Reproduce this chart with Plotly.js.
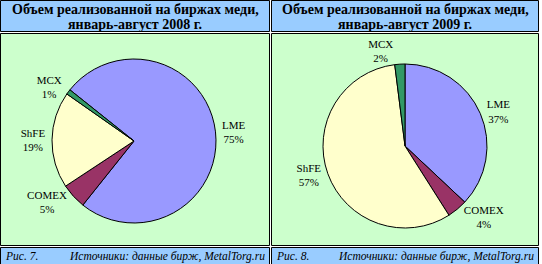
<!DOCTYPE html>
<html>
<head>
<meta charset="utf-8">
<script src="https://cdn.plot.ly/plotly-3.0.1.min.js"></script>
<style>html,body{margin:0;padding:0;background:#fff;}#chart{width:542px;height:264px;}</style>
</head>
<body>
<div id="chart"></div>
<script>
// Data
const exchanges2008 = ["LME", "COMEX", "ShFE", "MCX"];
const shares2008 = [75, 5, 19, 1];
const exchanges2009 = ["LME", "COMEX", "ShFE", "MCX"];
const shares2009 = [37, 4, 57, 2];
const sliceColors = ["#9999FF", "#993366", "#FFFFCC", "#339966"];
const titleLine1 = ["Объем реализованной на биржах меди,", "Объем реализованной на биржах меди,"];
const titleLine2 = ["январь-август 2008 г.", "январь-август 2009 г."];
const figLabels = ["Рис. 7.", "Рис. 8."];
const sourceText = "Источники: данные бирж, MetalTorg.ru";

const W = 542, H = 264;
const px = v => v / W;
const py = v => 1 - v / H;
const FONT = "Liberation Serif, Noto Serif, serif";

function box(x0, y0, x1, y1, fill) {
  return {type: "rect", xref: "paper", yref: "paper", layer: "below",
    x0: px(x0), x1: px(x1), y0: py(y1), y1: py(y0),
    fillcolor: fill, line: {color: "#000", width: 1}};
}
function note(text, x, y, xanchor, font) {
  return {xref: "paper", yref: "paper", x: px(x), y: py(y), xanchor: xanchor,
    yanchor: "middle", showarrow: false, text: text, font: font};
}

const panels = [[0.5, 269.5], [271.5, 538.5]];
const shapes = [];
const annotations = [];
const titleFont = {family: FONT, weight: "bold", size: 14, color: "#000"};
const capFont = {family: FONT, style: "italic", size: 11.5, color: "#000"};
panels.forEach(([a, b], i) => {
  shapes.push(box(a, 0.5, b, 31.5, "#99CCFF"));
  shapes.push(box(a, 33.5, b, 245.5, "#CCFFCC"));
  shapes.push(box(a, 247.5, b, 264.5, "#99CCFF"));
  annotations.push(note(titleLine1[i], (a + b) / 2, 9.5, "center", titleFont));
  annotations.push(note(titleLine2[i], (a + b) / 2, 24.5, "center", titleFont));
  annotations.push(note(figLabels[i], a + 2.5, 256, "left", capFont));
  annotations.push(note(sourceText, b - 3, 256, "right", capFont));
});

function pie(labels, values, rotation, dom) {
  return {type: "pie", labels: labels, values: values, sort: false,
    direction: "clockwise", rotation: rotation,
    marker: {colors: sliceColors, line: {color: "#000", width: 1}},
    textposition: "outside", texttemplate: "%{label}<br>%{percent:.0%}",
    textfont: {family: FONT, size: 11, color: "#000"},
    hoverinfo: "none", showlegend: false, domain: dom};
}

const data = [
  pie(exchanges2008, shares2008, -51.4, {x: [px(52), px(216)], y: [py(223), py(59)]}),
  pie(exchanges2009, shares2009, 0, {x: [px(323), px(487)], y: [py(228), py(64)]})
];

const layout = {width: W, height: H, margin: {l: 0, r: 0, t: 0, b: 0},
  paper_bgcolor: "#fff", plot_bgcolor: "rgba(0,0,0,0)",
  font: {family: FONT},
  shapes: shapes, annotations: annotations};

Plotly.newPlot("chart", data, layout, {staticPlot: true, displayModeBar: false});
</script>
</body>
</html>
